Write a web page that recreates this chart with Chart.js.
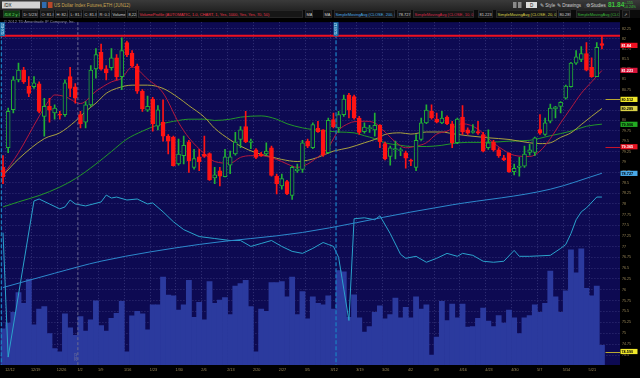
<!DOCTYPE html>
<html><head><meta charset="utf-8">
<script src="https://cdn.jsdelivr.net/npm/chart.js@4.4.1/dist/chart.umd.min.js"></script>
<style>
html,body{margin:0;padding:0;background:#000;width:640px;height:378px;overflow:hidden;font-family:"Liberation Sans",Arial,sans-serif;}
#hdr{position:absolute;left:0;top:0;width:1280px;height:60px;transform:scale(0.5);transform-origin:0 0;z-index:2;pointer-events:none;}
#r1{position:absolute;left:0;top:0;width:1280px;height:20px;background:linear-gradient(#3a3a3a,#242424);}
#r2{position:absolute;left:0;top:20px;width:1280px;height:16px;background:#0b0b0b;}
.inp{position:absolute;left:4px;top:3px;width:72px;height:14px;background:#d4d4d4;color:#111;font-size:9px;line-height:14px;padding-left:4px;}
.ico{position:absolute;top:4px;width:9px;height:12px;}
.ttl{position:absolute;left:108px;top:4px;font-size:9px;line-height:12px;color:#c9a552;white-space:nowrap;}
.tb{position:absolute;top:4px;height:12px;font-size:9px;line-height:12px;color:#cfcfcf;white-space:nowrap;}
.px{position:absolute;left:1216px;top:2px;font-size:13px;line-height:16px;font-weight:bold;color:#3fc43f;}
.chg{position:absolute;left:1248px;font-size:7px;line-height:8px;color:#3fc43f;}
.b{position:absolute;top:21px;height:14px;line-height:13px;font-size:8px;white-space:nowrap;overflow:hidden;border:1px solid #3c3c3c;background:#161616;color:#cfcfcf;padding:0 2px;box-sizing:border-box;}
#cr{position:absolute;left:8px;top:39px;font-size:8px;line-height:10px;color:#8686a8;white-space:nowrap;}
#c{position:absolute;left:0;top:18px;}
</style></head>
<body>
<canvas id="c" width="640" height="360"></canvas>
<div id="hdr">
 <div id="r1"></div><div id="r2"></div>
 <div class="inp">/DX</div>
 <div class="ico" style="left:84px;background:#2f6db0"></div>
 <div class="ico" style="left:96px;background:#b8482a"></div>
 <div class="ttl">US Dollar Index Futures,ETH (JUN12)</div>
 <div class="ico" style="left:1026px;background:#8a8a8a;width:7px"></div>
 <div class="ico" style="left:1036px;background:#8a8a8a;width:7px"></div>
 <div class="tb" style="left:1052px;width:22px;background:#dcdcdc;color:#222;text-align:center">D</div>
 <div class="tb" style="left:1080px">&#9998; Style</div>
 <div class="tb" style="left:1114px">&#9998; Drawings</div>
 <div class="tb" style="left:1168px;background:#333;padding:0 3px">&#9881; Studies</div>
 <div class="px">81.84</div>
 <div class="chg" style="top:2px">+.155</div>
 <div class="chg" style="top:10px">+0.24%</div>

 <div class="b" style="left:6px;width:34px;background:#0d3a10;color:#6ee06e">/DX 2 y D</div>
 <div class="b" style="left:44px;width:32px">D: 5/23/12</div>
 <div class="b" style="left:80px;width:28px">O: 81.885</div>
 <div class="b" style="left:110px;width:26px">H: 82.08</div>
 <div class="b" style="left:138px;width:26px">L: 81.75</div>
 <div class="b" style="left:166px;width:28px">C: 81.84</div>
 <div class="b" style="left:196px;width:24px">R: 0.32</div>
 <div class="b" style="left:222px;width:30px">Volume</div>
 <div class="b" style="left:254px;width:20px">8,224</div>
 <div class="b" style="left:276px;width:330px;color:#e8344a">VolumeProfile (AUTOMATIC, 1.0, CHART, 1, Yes, 1000, Yes, Yes, 70, 50)</div>
 <div class="b" style="left:610px;width:16px">MA</div>
 <div class="b" style="left:646px;width:18px">MA</div>
 <div class="b" style="left:668px;width:122px;color:#4aa8e8">SimpleMovingAvg (CLOSE, 200, 0)</div>
 <div class="b" style="left:794px;width:28px">78.727</div>
 <div class="b" style="left:826px;width:122px;color:#d6284a">SimpleMovingAvg (CLOSE, 10, 0)</div>
 <div class="b" style="left:956px;width:30px">81.223</div>
 <div class="b" style="left:992px;width:122px;color:#d8d046">SimpleMovingAvg (CLOSE, 20, 0)</div>
 <div class="b" style="left:1116px;width:26px">80.289</div>
 <div class="b" style="left:1152px;width:88px;color:#36b436">SimpleMovingAvg (CLOSE, 50, 0)</div>
 <div class="b" style="left:1244px;width:16px;text-align:center">&#8599;</div>
 <div id="cr">© 2012 TD Ameritrade IP Company, Inc.</div>
</div>
<script>
const dates = [
'2011-12-09',
'2011-12-12','2011-12-13','2011-12-14','2011-12-15','2011-12-16',
'2011-12-19','2011-12-20','2011-12-21','2011-12-22','2011-12-23',
'2011-12-27','2011-12-28','2011-12-29','2011-12-30',
'2012-01-03','2012-01-04','2012-01-05','2012-01-06',
'2012-01-09','2012-01-10','2012-01-11','2012-01-12','2012-01-13',
'2012-01-16','2012-01-17','2012-01-18','2012-01-19','2012-01-20',
'2012-01-23','2012-01-24','2012-01-25','2012-01-26','2012-01-27',
'2012-01-30','2012-01-31','2012-02-01','2012-02-02','2012-02-03',
'2012-02-06','2012-02-07','2012-02-08','2012-02-09','2012-02-10',
'2012-02-13','2012-02-14','2012-02-15','2012-02-16','2012-02-17',
'2012-02-20','2012-02-21','2012-02-22','2012-02-23','2012-02-24',
'2012-02-27','2012-02-28','2012-02-29','2012-03-01','2012-03-02',
'2012-03-05','2012-03-06','2012-03-07','2012-03-08','2012-03-09',
'2012-03-12','2012-03-13','2012-03-14','2012-03-15','2012-03-16',
'2012-03-19','2012-03-20','2012-03-21','2012-03-22','2012-03-23',
'2012-03-26','2012-03-27','2012-03-28','2012-03-29','2012-03-30',
'2012-04-02','2012-04-03','2012-04-04','2012-04-05','2012-04-06',
'2012-04-09','2012-04-10','2012-04-11','2012-04-12','2012-04-13',
'2012-04-16','2012-04-17','2012-04-18','2012-04-19','2012-04-20',
'2012-04-23','2012-04-24','2012-04-25','2012-04-26','2012-04-27',
'2012-04-30','2012-05-01','2012-05-02','2012-05-03','2012-05-04',
'2012-05-07','2012-05-08','2012-05-09','2012-05-10','2012-05-11',
'2012-05-14','2012-05-15','2012-05-16','2012-05-17','2012-05-18',
'2012-05-21','2012-05-22','2012-05-23'];

const opens = [78.87,79.34,80.26,80.99,81.23,80.84,80.82,80.89,80.10,80.34,
80.18,80.15,80.14,81.07,80.82,80.14,79.96,80.38,81.26,81.67,
81.26,81.29,81.53,81.07,81.91,81.65,81.33,80.71,80.25,80.52,
79.86,79.96,79.62,79.60,78.95,79.15,79.48,78.87,79.12,79.19,
79.20,78.62,78.79,78.65,78.92,79.19,79.54,79.85,79.47,79.29,
79.19,79.19,79.34,78.66,78.43,78.53,78.20,78.79,78.82,79.50,
79.34,79.81,79.77,79.22,80.02,79.82,80.14,80.62,80.58,80.06,
79.73,79.80,79.77,79.89,79.44,79.13,79.29,79.27,79.22,79.04,
78.87,79.54,79.94,80.22,80.03,79.94,80.08,79.92,79.46,80.08,
79.77,79.71,79.73,79.66,79.34,79.48,79.29,79.10,79.21,78.77,
78.87,78.90,79.23,79.23,79.78,79.66,79.98,80.28,80.34,80.54,
80.82,81.40,81.49,81.64,81.30,81.07,81.885];
const highs = [79.15,80.30,81.07,81.40,81.30,81.07,81.07,80.94,80.54,80.54,
80.38,80.22,80.99,81.30,80.90,80.22,80.46,81.34,81.76,81.87,
81.34,81.76,81.61,82.03,81.95,81.71,81.38,80.75,80.59,80.56,
80.36,80.50,79.66,79.62,79.55,79.62,79.52,79.30,79.30,79.62,
79.22,78.87,78.87,79.30,79.26,79.71,79.85,80.22,79.55,79.32,
79.23,79.46,79.38,78.71,78.71,78.56,78.90,78.95,79.52,79.55,
79.94,79.98,79.78,80.06,80.18,80.22,80.62,80.66,80.62,80.10,
79.94,79.88,80.18,79.90,79.48,79.38,79.50,79.34,79.26,79.07,
79.66,80.06,80.38,80.38,80.18,80.22,80.11,79.98,80.06,80.36,
79.82,79.90,79.98,79.71,79.77,79.52,79.34,79.16,79.22,78.95,
79.11,79.38,79.42,79.60,80.14,80.06,80.40,80.34,80.46,80.86,
81.42,81.71,81.81,81.91,81.53,81.91,82.08];
const lows = [78.48,79.22,80.18,80.94,80.90,80.58,80.78,80.18,79.62,79.96,
80.03,80.03,80.10,80.58,80.42,79.82,79.82,80.34,81.03,81.23,
80.99,81.23,80.99,80.75,81.56,81.30,80.66,80.22,80.22,79.74,
79.77,79.50,79.19,78.90,78.92,78.95,78.75,78.83,78.79,79.11,
78.56,78.48,78.43,78.64,78.72,79.16,79.34,79.46,79.32,79.08,
79.13,79.15,78.66,78.24,78.35,78.22,78.11,78.75,78.75,79.34,
79.32,79.71,79.13,79.21,79.82,79.71,80.10,80.06,80.03,79.66,
79.69,79.71,79.62,79.34,79.05,78.92,79.07,79.15,78.85,78.91,
78.79,79.52,79.92,80.03,79.94,79.92,79.90,79.34,79.44,79.66,
79.66,79.69,79.66,79.24,79.30,79.26,79.11,79.03,78.75,78.69,
78.66,78.87,79.16,79.15,79.66,79.64,79.94,80.06,80.18,80.52,
80.81,81.37,81.44,81.21,81.05,81.07,81.75];
const closes = [78.64,80.22,80.99,81.23,80.94,80.66,80.92,80.22,80.34,80.25,
80.30,80.13,80.92,80.78,80.54,79.92,80.38,81.23,81.61,81.26,
81.16,81.53,81.07,81.71,81.61,81.34,80.71,80.28,80.34,79.92,
80.26,79.62,79.50,78.91,79.19,79.40,79.03,79.08,79.00,79.13,
78.57,78.69,78.66,79.12,79.12,79.48,79.77,79.48,79.50,79.11,
79.15,79.26,78.68,78.48,78.60,78.24,78.87,78.83,79.46,79.38,
79.90,79.73,79.16,80.00,79.85,80.14,80.52,80.25,80.06,79.71,
79.84,79.81,79.88,79.48,79.07,79.34,79.32,79.29,79.09,79.02,
79.52,79.94,80.25,80.06,79.96,80.06,79.92,79.46,80.03,79.72,
79.69,79.74,79.69,79.26,79.46,79.29,79.15,79.05,78.77,78.85,
78.90,79.19,79.29,79.58,79.69,79.94,80.30,80.33,80.44,80.84,
81.40,81.56,81.64,81.23,81.07,81.79,81.84];
const volumes = [15070,17400,21920,30140,25620,35620,16710,23290,24250,13020,
6850,5480,21240,15480,12330,20140,14110,18770,26720,16440,
14110,19450,21510,26440,5480,20410,22330,21240,14660,25070,
25070,36580,29040,28770,22880,25070,35210,19870,26030,18770,
34660,25620,26990,28090,20960,32880,33840,35210,24250,5480,
23290,22330,34250,34250,34660,28360,36580,20960,30550,19180,
28360,25620,25070,28770,23290,39320,38770,19870,29180,19590,
13700,16030,21920,24660,19180,20960,27810,19590,23980,19590,
28360,23290,25070,4110,11650,26440,18500,25350,19590,25350,
15760,16030,19450,23700,18220,16030,20550,17400,22880,19590,
13020,19590,20550,25070,21920,25620,39050,28360,21920,30830,
47950,38360,48360,31920,28770,32880,8224];

// [bar index, value]
const sma10Pts = [[0,78.68],[3,79.22],[7,80.10],[9,80.50],[10,80.62],[12,80.58],[15,80.41],[18,80.71],[21,80.94],[23,81.03],[25,81.31],[28,81.01],[31,80.67],[34,79.95],[36,79.58],[39,79.20],[41,79.01],[44,78.97],[46,79.11],[48,79.15],[50,79.15],[52,79.10],[54,79.01],[56,78.90],[57,78.87],[59,78.95],[60,79.03],[63,79.35],[65,79.76],[67,79.93],[68,79.97],[70,79.98],[72,79.94],[74,79.72],[76,79.48],[78,79.34],[80,79.38],[82,79.46],[84,79.67],[86,79.74],[89,79.92],[92,79.79],[94,79.56],[97,79.28],[99,79.16],[102,79.13],[104,79.26],[106,79.56],[108,79.94],[110,80.30],[112,80.66],[114,80.94],[116,81.22]];
const sma20Pts = [[0,78.68],[3,79.07],[8,79.56],[11,79.70],[14,79.98],[16,80.22],[18,80.42],[20,80.66],[22,80.78],[25,80.86],[28,80.86],[31,80.78],[34,80.55],[36,80.36],[39,80.08],[41,79.81],[44,79.53],[46,79.38],[49,79.22],[52,79.12],[54,79.06],[57,79.01],[59,79.04],[61,79.11],[64,79.26],[67,79.34],[70,79.46],[72,79.54],[74,79.66],[77,79.70],[79,79.67],[82,79.72],[85,79.72],[87,79.68],[90,79.63],[94,79.58],[98,79.54],[102,79.46],[104,79.44],[106,79.46],[108,79.59],[110,79.70],[112,79.90],[114,80.10],[116,80.29]];
const sma50Pts = [[0,77.93],[3,78.05],[7,78.20],[11,78.40],[14,78.60],[18,78.95],[21,79.25],[24,79.55],[27,79.74],[30,79.89],[34,80.00],[36,80.03],[39,80.03],[41,80.00],[44,80.03],[46,80.08],[50,80.11],[53,80.03],[55,79.92],[58,79.82],[60,79.78],[63,79.74],[65,79.72],[68,79.70],[70,79.63],[72,79.56],[74,79.46],[77,79.40],[79,79.37],[82,79.37],[85,79.40],[87,79.44],[90,79.47],[94,79.47],[98,79.50],[102,79.52],[106,79.63],[110,79.74],[113,79.86],[116,79.91]];
const sma200Pts = [[0,76.05],[10,76.38],[19,76.66],[38,77.05],[58,77.33],[79,77.81],[87,77.98],[106,78.35],[116,78.73]];
const volAvgPts = [[0,55070],[1,3290],[6,68230],[7,69050],[9,66990],[11,64940],[12,65760],[13,68640],[14,66990],[16,66170],[19,67820],[20,70690],[21,69460],[22,69870],[24,68640],[26,69050],[28,66990],[29,67400],[31,63710],[33,59600],[35,56310],[38,53430],[41,52610],[44,51790],[46,51790],[48,49320],[50,50550],[52,51790],[54,49320],[56,47270],[58,46440],[60,48500],[62,50960],[63,50140],[64,49320],[65,44800],[66,31650],[67,18500],[68,60830],[70,61240],[72,60420],[73,62060],[75,54660],[77,46030],[78,44390],[80,45210],[82,42740],[84,44390],[86,46440],[88,45210],[89,46440],[91,45620],[93,43160],[95,42740],[97,43160],[99,47680],[100,45210],[102,45210],[106,45620],[108,48500],[109,50140],[110,54660],[111,60420],[112,63710],[113,65350],[115,69870],[116,69870]];

const priceTicks = [82.25,82,81.75,81.5,81.25,81,80.75,80.5,80.25,80,79.75,79.5,79.25,79,78.75,78.5,78.25,78,77.75,77.5,77.25,77,76.75,76.5,76.25,76,75.75,75.5,75.25,75,74.75,74.5];
const markerLabels = ['81.84','81.223','80.512','80.289','79.906','79.365','78.727','74.590'];
const highLineValue = 82.08;
const rollBars = [0, 65];
const rollNames = ['/DXH12', '/DXM12'];

// styles (kept apart from the data)
const markerStyles = [
 {bg:'#ee1122',fg:'#ffffff',stub:null},
 {bg:'#d8143a',fg:'#ffffff',stub:null},
 {bg:'#f0e82a',fg:'#000000',stub:'#b8a832'},
 {bg:'#d8d046',fg:'#000000',stub:null},
 {bg:'#22aa22',fg:'#000000',stub:null},
 {bg:'#e81422',fg:'#ffffff',stub:'#c8142a'},
 {bg:'#48a8e8',fg:'#000000',stub:null},
 {bg:'#f0e82a',fg:'#000000',stub:'#b8a832'}];
const NAVY = '#0d0a52', UP = '#22b034', DN = '#ff1414', TICKC = '#9c8a5a', GRID = 'rgba(84,84,150,0.55)';

const labels = dates.concat(['', ' ', '  ']);
function mondayOf(s){ const p=s.split('-').map(Number); const d=new Date(p[0],p[1]-1,p[2]); d.setDate(d.getDate()-(d.getDay()-1)); return (d.getMonth()+1)+'/'+d.getDate(); }
const tickText = labels.map((d,i)=> (i>0 && i<dates.length && mondayOf(dates[i])!==mondayOf(dates[i-1])) ? mondayOf(dates[i]) : '');
const yearStart = dates.findIndex((d,i)=> i>0 && d.slice(0,4)!==dates[i-1].slice(0,4));
const isUp = closes.map((c,i)=> c>=opens[i]);
const pts = arr => arr.map(([i,v]) => ({x: labels[i], y: v}));

const overlay = {
  id:'overlay',
  beforeDraw(chart){
    const {ctx, chartArea:a} = chart;
    ctx.save();
    ctx.fillStyle='#000'; ctx.fillRect(0,0,chart.width,chart.height);
    ctx.fillStyle=NAVY; ctx.fillRect(a.left,a.top,a.right-a.left,a.bottom-a.top);
    ctx.restore();
  },
  afterDatasetsDraw(chart){
    const {ctx, chartArea:a, scales:{x,y}} = chart;
    const sw = x.getPixelForValue(1)-x.getPixelForValue(0);
    ctx.save();
    // year separator
    const xy = x.getPixelForValue(yearStart)-sw/2;
    ctx.strokeStyle='#6c6c90'; ctx.lineWidth=1; ctx.setLineDash([3,2]);
    ctx.beginPath(); ctx.moveTo(xy,a.top); ctx.lineTo(xy,a.bottom); ctx.stroke();
    // roll lines
    ctx.strokeStyle='#1c7cc0'; ctx.lineWidth=1.3; ctx.setLineDash([4,2]);
    rollBars.forEach(b=>{ let xx=x.getPixelForValue(b)-sw/2; if (xx<a.left+1) xx=a.left+1;
      ctx.beginPath(); ctx.moveTo(xx,a.top+12); ctx.lineTo(xx,a.bottom); ctx.stroke(); });
    ctx.setLineDash([]);
    // high line
    const yh = y.getPixelForValue(highLineValue);
    ctx.strokeStyle='#ee1020'; ctx.lineWidth=2;
    ctx.beginPath(); ctx.moveTo(a.left,yh); ctx.lineTo(a.right,yh); ctx.stroke();
    // stubs right of the last bar
    const xs = x.getPixelForValue(dates.length-1)+sw/2+1;
    ctx.lineWidth=1;
    markerLabels.forEach((t,i)=>{ const st=markerStyles[i]; if(!st.stub) return; const yy=Math.round(y.getPixelForValue(parseFloat(t)))+0.5;
      ctx.strokeStyle=st.stub; ctx.beginPath(); ctx.moveTo(xs,yy); ctx.lineTo(a.right,yy); ctx.stroke(); });
    ctx.restore();
  },
  afterDraw(chart){
    const {ctx, chartArea:a, scales:{x,y}} = chart;
    const sw = x.getPixelForValue(1)-x.getPixelForValue(0);
    ctx.save();
    // roll markers with rotated names
    rollBars.forEach((b,k)=>{ let xx=x.getPixelForValue(b)-sw/2; if (xx<a.left+2) xx=a.left+2;
      ctx.fillStyle='#1c6ea6'; ctx.fillRect(xx-2.5,a.top,5,14);
      ctx.save(); ctx.translate(xx+1.3,a.top+13); ctx.rotate(-Math.PI/2);
      ctx.fillStyle='#bfe6ff'; ctx.font='3.4px "Liberation Sans", Arial'; ctx.textBaseline='alphabetic'; ctx.fillText(rollNames[k],0,0); ctx.restore(); });
    // year label
    const xy = x.getPixelForValue(yearStart)-sw/2;
    ctx.save(); ctx.translate(xy-1,a.bottom-4); ctx.rotate(-Math.PI/2);
    ctx.fillStyle='#7c7ca0'; ctx.font='3.6px "Liberation Sans", Arial'; ctx.fillText(dates[yearStart].slice(0,4),0,0); ctx.restore();
    // axis value boxes
    ctx.font='bold 3.8px "Liberation Sans", Arial'; ctx.textBaseline='middle'; ctx.textAlign='left';
    markerLabels.forEach((t,i)=>{ const st=markerStyles[i]; const yy=y.getPixelForValue(parseFloat(t));
      ctx.fillStyle=st.bg; ctx.fillRect(a.right+0.5,yy-2.6,17,5.2);
      ctx.fillStyle=st.fg; ctx.fillText(t,a.right+1.5,yy+0.2); });
    ctx.restore();
  }
};

Chart.defaults.font.family = '"Liberation Sans", Arial, sans-serif';
new Chart(document.getElementById('c'), {
  type:'bar',
  data:{ labels, datasets:[
    {type:'bar', label:'Body', data: opens.map((o,i)=>[o,closes[i]]), yAxisID:'y', grouped:false, barThickness:4, minBarLength:1,
     backgroundColor: isUp.map(u=>u?NAVY:DN), borderColor: isUp.map(u=>u?UP:DN), borderWidth:1, borderSkipped:false, order:1},
    {type:'bar', label:'Wick', data: lows.map((l,i)=>[l,highs[i]]), yAxisID:'y', grouped:false, barThickness:1,
     backgroundColor: isUp.map(u=>u?UP:DN), order:2},
    {type:'line', label:'SMA10', data: pts(sma10Pts), yAxisID:'y', borderColor:'#b4183e', borderWidth:1, pointRadius:0, cubicInterpolationMode:'monotone', order:3},
    {type:'line', label:'SMA20', data: pts(sma20Pts), yAxisID:'y', borderColor:'#aaa23e', borderWidth:1, pointRadius:0, cubicInterpolationMode:'monotone', order:3},
    {type:'line', label:'SMA50', data: pts(sma50Pts), yAxisID:'y', borderColor:'#22962a', borderWidth:1, pointRadius:0, cubicInterpolationMode:'monotone', order:3},
    {type:'line', label:'SMA200', data: pts(sma200Pts), yAxisID:'y', borderColor:'#2c88cc', borderWidth:1, pointRadius:0, cubicInterpolationMode:'monotone', order:4},
    {type:'line', label:'VolAvg', data: pts(volAvgPts), yAxisID:'yVol', borderColor:'#2aa2cc', borderWidth:1, pointRadius:0, tension:0, order:5},
    {type:'bar', label:'Volume', data: volumes, yAxisID:'yVol', grouped:false, barPercentage:1, categoryPercentage:1, backgroundColor:'#2b3a9e', order:6}
  ]},
  options:{
    responsive:false, maintainAspectRatio:false, animation:false, events:[],
    layout:{padding:0},
    plugins:{legend:{display:false}, tooltip:{enabled:false}},
    scales:{
      x:{ type:'category', offset:true,
          grid:{offset:true, drawTicks:false, lineWidth:1, color: c => (tickText[c.index] && c.index!==yearStart) ? GRID : 'rgba(0,0,0,0)'},
          border:{display:false, dash:[1,2]},
          ticks:{autoSkip:false, maxRotation:0, minRotation:0, align:'start', labelOffset:-3, padding:3, color:TICKC, font:{size:3.8},
                 callback:(v,i)=> tickText[i] || ''},
          afterFit: s => { s.height = 13; } },
      y:{ type:'logarithmic', position:'right', min:74.2855, max:82.4184,
          afterBuildTicks: s => { s.ticks = priceTicks.map(v=>({value:v})); },
          grid:{color:GRID, drawTicks:false, lineWidth:1},
          border:{display:false, dash:[1,2]},
          ticks:{autoSkip:false, padding:2, color:TICKC, font:{size:3.6}, callback: v => String(+(+v).toFixed(2))},
          afterFit: s => { s.width = 20; } },
      yVol:{ type:'linear', display:false, min:0, max:142617 }
    }
  },
  plugins:[overlay]
});
</script>
</body></html>
